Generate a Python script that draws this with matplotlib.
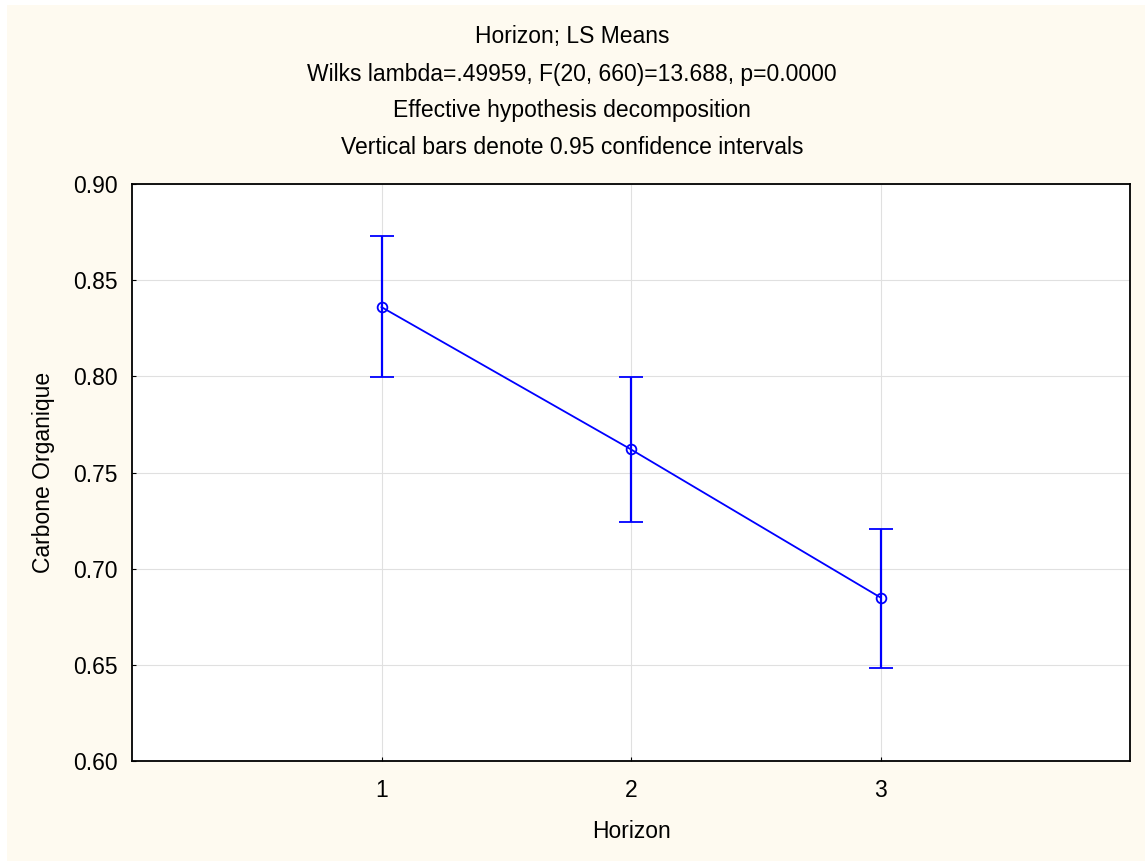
import matplotlib
matplotlib.use('Agg')
from matplotlib import pyplot as plt
from matplotlib.patches import Rectangle
import numpy as np

# Data
horizons = [1, 2, 3]
means = [0.836, 0.762, 0.685]
ci_low = [0.7995, 0.7245, 0.6485]
ci_high = [0.8728, 0.7995, 0.7206]
y_ticks = [0.60, 0.65, 0.70, 0.75, 0.80, 0.85, 0.90]

title_lines = [
    "Horizon; LS Means",
    "Wilks lambda=.49959, F(20, 660)=13.688, p=0.0000",
    "Effective hypothesis decomposition",
    "Vertical bars denote 0.95 confidence intervals",
]

plt.rcParams['font.family'] = ['Liberation Sans', 'DejaVu Sans']
fs = 16.5

bg = '#fefaf0'
fig = plt.figure(figsize=(11.45, 8.61), dpi=100, facecolor='white')
# cream panel (small white margin at top/left like the original)
fig.patches.append(Rectangle((7 / 1145, 0), 1, 1 - 5 / 861, transform=fig.transFigure,
                             facecolor=bg, edgecolor='none', zorder=-10))

ax = fig.add_axes([132 / 1145, 100 / 861, (1130 - 132) / 1145, (761 - 184) / 861])
ax.set_facecolor('white')

means_arr = np.array(means)
yerr = [means_arr - np.array(ci_low), np.array(ci_high) - means_arr]
ax.errorbar(horizons, means, yerr=yerr, color='#0000ff', linewidth=1.3,
            elinewidth=1.6, capsize=8.6, capthick=1.6, marker='o', markersize=7,
            markerfacecolor='none', markeredgecolor='#0000ff', markeredgewidth=1.3, zorder=3)

ax.set_xlim(0, 4)
ax.set_ylim(0.60, 0.90)
ax.set_xticks(horizons)
ax.set_yticks(y_ticks)
ax.set_yticklabels([f"{v:.2f}" for v in y_ticks])
ax.grid(True, color='#e0e0e0', linewidth=0.8)
ax.set_axisbelow(True)
ax.tick_params(direction='in', length=3, labelsize=fs, color='black')
ax.tick_params(axis='x', pad=13)
ax.tick_params(axis='y', pad=10)
for s in ax.spines.values():
    s.set_linewidth(1.3)

ax.set_xlabel('Horizon', fontsize=fs, labelpad=13)
ax.set_ylabel('Carbone Organique', fontsize=fs, labelpad=13)

for i, line in enumerate(title_lines):
    fig.text(572 / 1145, 1 - (37 + 37 * i) / 861, line, ha='center', va='center', fontsize=fs)

plt.savefig('out.png', dpi=100, facecolor=fig.get_facecolor())
plt.close()
